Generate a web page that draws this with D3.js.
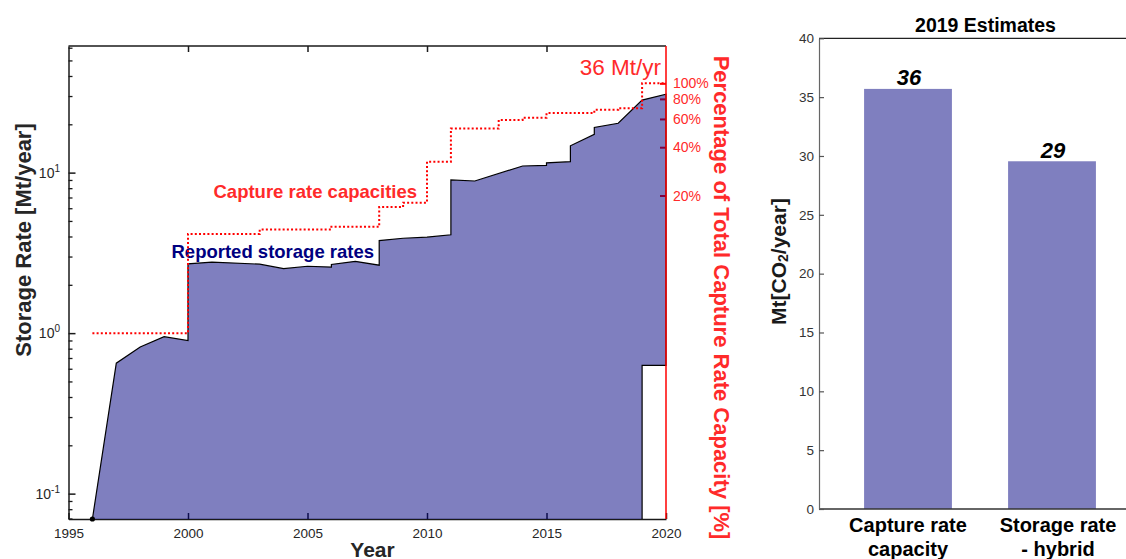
<!DOCTYPE html>
<html><head><meta charset="utf-8">
<script src="https://cdn.jsdelivr.net/npm/d3@7"></script>
<style>
body{margin:0;background:#fff;}
svg{display:block;font-family:"Liberation Sans",Arial,Helvetica,sans-serif;}
</style></head><body>
<svg id="chart" width="1126" height="559"></svg>
<script>
// ---------------- data ----------------
const storageYears  = [1996, 1997, 1998, 1999, 2000, 2000, 2001, 2003, 2004, 2005, 2006, 2006, 2007, 2008, 2008, 2009, 2010, 2011, 2011, 2012, 2014, 2015, 2015, 2016, 2016, 2017, 2017, 2018, 2019, 2020, 2020, 2019, 2019];
const storageValues = [0.0695, 0.65, 0.82, 0.95, 0.90, 2.70, 2.77, 2.69, 2.52, 2.61, 2.58, 2.68, 2.80, 2.65, 3.77, 3.90, 3.96, 4.10, 9.00, 8.87, 11.0, 11.1, 11.5, 11.7, 14.7, 17.3, 19.1, 20.3, 28.3, 30.8, 0.63, 0.63, 0.0695];
const captureYears  = [1996, 2000, 2003, 2006, 2008, 2009, 2010, 2011, 2013, 2014, 2015, 2017, 2018, 2019, 2020];
const captureValues = [1.0, 4.15, 4.43, 4.6, 6.1, 6.5, 11.7, 18.8, 21.3, 22.0, 23.5, 24.6, 25.2, 36, 36];
const totalCapacity = 36;
const pctTicks = [20, 40, 60, 80, 100];
const yearTicks = [1995, 2000, 2005, 2010, 2015, 2020];
const logMajorTicks = [0.1, 1, 10];
const logMajorExp = ["-1", "0", "1"];
const barCategories = [["Capture rate", "capacity"], ["Storage rate", "- hybrid"]];
const barPositions = [1, 2];
const barValues = [35.7, 29.55];
const barLabels = ["36", "29"];
const barTicks = [0, 5, 10, 15, 20, 25, 30, 35, 40];

// ---------------- setup ----------------
const svg = d3.select("#chart");
const NAVY = "#000080", RED = "#ff0000", RED_TXT = "#ff2a2a", INK = "#262626";

// left panel scales
const x = d3.scaleLinear().domain([1995, 2020]).range([68.5, 666]);
const y = d3.scaleLog().domain([0.0695, 61.5]).range([519, 46]);
const L = {left: 68.5, right: 666, top: 46, bottom: 519};

const gL = svg.append("g");

// top border
gL.append("line").attr("x1", L.left).attr("x2", L.right).attr("y1", L.top).attr("y2", L.top)
  .attr("stroke", "#1a1a1a").attr("stroke-width", 1.5);

// top ticks (no labels)
gL.append("g").attr("transform", `translate(0,${L.top})`)
  .call(d3.axisTop(x).tickValues(yearTicks.slice(1, -1)).tickSize(-6).tickSizeOuter(0).tickFormat(""))
  .call(g => g.select(".domain").remove())
  .call(g => g.selectAll(".tick line").attr("stroke", "#1a1a1a").attr("stroke-width", 1.5));

// bottom axis
gL.append("g").attr("transform", `translate(0,${L.bottom})`)
  .call(d3.axisBottom(x).tickValues(yearTicks).tickSize(-6).tickSizeOuter(0).tickPadding(9).tickFormat(d3.format("d")))
  .call(g => g.select(".domain").attr("stroke", "#1a1a1a").attr("stroke-width", 1.5))
  .call(g => g.selectAll(".tick line").attr("stroke", "#1a1a1a").attr("stroke-width", 1.5))
  .call(g => g.selectAll(".tick text").attr("fill", INK).attr("font-size", 13.5).attr("font-family", "Liberation Sans, Arial, sans-serif"));

// left axis major / minor ticks
const minorTicks = [];
[0.01, 0.1, 1, 10].forEach(d => { for (let k = 2; k <= 9; k++) { const v = d * k; if (v >= y.domain()[0] && v <= y.domain()[1]) minorTicks.push(v); } });
gL.append("g").attr("transform", `translate(${L.left},0)`)
  .call(d3.axisLeft(y).tickValues(minorTicks).tickSize(-4).tickSizeOuter(0).tickFormat(""))
  .call(g => g.select(".domain").remove())
  .call(g => g.selectAll(".tick line").attr("stroke", "#1a1a1a").attr("stroke-width", 1.3));
gL.append("g").attr("transform", `translate(${L.left},0)`)
  .call(d3.axisLeft(y).tickValues(logMajorTicks).tickSize(-7).tickSizeOuter(0).tickFormat(""))
  .call(g => g.select(".domain").attr("stroke", "#1a1a1a").attr("stroke-width", 1.5))
  .call(g => g.selectAll(".tick line").attr("stroke", "#1a1a1a").attr("stroke-width", 1.5));
// major labels 10^n
logMajorTicks.forEach((v, i) => {
  const t = gL.append("text").attr("x", 60).attr("y", y(v) + 5).attr("text-anchor", "end")
    .attr("fill", INK).attr("font-size", 14);
  t.append("tspan").text("10");
  t.append("tspan").attr("dy", -6).attr("font-size", 10).text(logMajorExp[i]);
});

// right axis (percentage of total capacity)
gL.append("g").attr("transform", `translate(${L.right},0)`)
  .call(d3.axisRight(y).tickValues(pctTicks.map(p => p / 100 * totalCapacity)).tickSize(-6).tickSizeOuter(0).tickPadding(7)
        .tickFormat(v => Math.round(v / totalCapacity * 100) + "%"))
  .call(g => g.select(".domain").remove())
  .call(g => g.selectAll(".tick line").attr("stroke", RED).attr("stroke-width", 2))
  .call(g => g.selectAll(".tick text").attr("fill", RED_TXT).attr("font-size", 14).attr("font-family", "Liberation Sans, Arial, sans-serif"));

// storage area (semi transparent navy over the axes)
const pts = storageYears.map((yr, i) => [x(yr), y(storageValues[i])]);
gL.append("path").attr("d", d3.line()(pts) + "Z")
  .attr("fill", NAVY).attr("fill-opacity", 0.5).attr("stroke", "none");
gL.append("path").attr("d", d3.line()(pts))
  .attr("fill", "none").attr("stroke", "#000").attr("stroke-width", 1.2).attr("stroke-linejoin", "miter");
gL.append("circle").attr("cx", x(storageYears[0])).attr("cy", y(storageValues[0])).attr("r", 2.6).attr("fill", "#000");

// right axis line (red)
gL.append("line").attr("x1", L.right).attr("x2", L.right).attr("y1", L.top).attr("y2", L.bottom)
  .attr("stroke", RED).attr("stroke-width", 1.5);

// annotations
gL.append("text").attr("x", 213.5).attr("y", 198).attr("font-size", 18.5).attr("font-weight", "bold")
  .attr("fill", RED_TXT).text("Capture rate capacities");
gL.append("text").attr("x", 171.5).attr("y", 258).attr("font-size", 18.5).attr("font-weight", "bold")
  .attr("fill", NAVY).text("Reported storage rates");
gL.append("text").attr("x", 661).attr("y", 75).attr("text-anchor", "end").attr("font-size", 22.5)
  .attr("fill", RED_TXT).text(totalCapacity + " Mt/yr");

// capture capacity dotted step line
const capLine = d3.line().curve(d3.curveStepAfter).x((d, i) => x(captureYears[i])).y(d => y(d));
gL.append("path").attr("d", capLine(captureValues))
  .attr("fill", "none").attr("stroke", RED).attr("stroke-width", 2).attr("stroke-dasharray", "2,2.2");

// axis titles
gL.append("text").attr("transform", "translate(31,240) rotate(-90)").attr("text-anchor", "middle")
  .attr("font-size", 22).attr("font-weight", "bold").attr("fill", INK).text("Storage Rate [Mt/year]");
gL.append("text").attr("x", 372.5).attr("y", 556.5).attr("text-anchor", "middle")
  .attr("font-size", 21).attr("font-weight", "bold").attr("fill", INK).text("Year");
gL.append("text").attr("transform", "translate(714,297.5) rotate(90)").attr("text-anchor", "middle")
  .attr("font-size", 22).attr("font-weight", "bold").attr("fill", RED_TXT).text("Percentage of Total Capture Rate Capacity [%]");

// ---------------- right panel: bars ----------------
const xb = d3.scaleLinear().domain([1, 2]).range([908, 1052]);
const yb = d3.scaleLinear().domain([0, 40]).range([509, 38.3]);
const barHalfWidth = 0.305; // in category units
const R = {left: xb(0.382), right: xb(2.7), top: yb(40), bottom: yb(0)};
const gR = svg.append("g");

gR.selectAll("rect.bar").data(barValues).join("rect").attr("class", "bar")
  .attr("x", (d, i) => xb(barPositions[i] - barHalfWidth))
  .attr("width", (d, i) => xb(barPositions[i] + barHalfWidth) - xb(barPositions[i] - barHalfWidth))
  .attr("y", d => yb(d)).attr("height", d => yb(0) - yb(d))
  .attr("fill", NAVY).attr("fill-opacity", 0.5);

// top line
gR.append("line").attr("x1", R.left).attr("x2", R.right).attr("y1", R.top).attr("y2", R.top)
  .attr("stroke", "#222").attr("stroke-width", 1.2);
// bottom line
gR.append("line").attr("x1", R.left).attr("x2", R.right).attr("y1", R.bottom).attr("y2", R.bottom)
  .attr("stroke", "#333").attr("stroke-width", 1.3);
// left axis
gR.append("g").attr("transform", `translate(${R.left},0)`)
  .call(d3.axisLeft(yb).tickValues(barTicks).tickSize(-5).tickSizeOuter(0).tickPadding(5))
  .call(g => g.select(".domain").attr("stroke", "#666").attr("stroke-width", 1.2))
  .call(g => g.selectAll(".tick line").attr("stroke", "#555").attr("stroke-width", 1.2))
  .call(g => g.selectAll(".tick text").attr("fill", "#333").attr("font-size", 13.5).attr("font-family", "Liberation Sans, Arial, sans-serif"));

// value labels
gR.selectAll("text.val").data(barLabels).join("text").attr("class", "val")
  .attr("x", (d, i) => xb(barPositions[i]) + 1).attr("y", (d, i) => yb(barValues[i]) - 3.5)
  .attr("text-anchor", "middle").attr("font-size", 22).attr("font-weight", "bold").attr("font-style", "italic")
  .attr("fill", "#000").text(d => d);

// category labels
barCategories.forEach((lines, i) => {
  lines.forEach((ln, j) => {
    gR.append("text").attr("x", xb(barPositions[i]) + (i === 1 ? 6 : 0)).attr("y", 531.5 + j * 24)
      .attr("text-anchor", "middle").attr("font-size", 20).attr("font-weight", "bold").attr("fill", "#000").text(ln);
  });
});

// title
gR.append("text").attr("x", 985.5).attr("y", 32.3).attr("text-anchor", "middle")
  .attr("font-size", 19.5).attr("font-weight", "bold").attr("fill", "#000").text("2019 Estimates");

// y label with subscript
const yl = gR.append("text").attr("transform", "translate(786,261.5) rotate(-90)").attr("text-anchor", "middle")
  .attr("font-size", 21).attr("font-weight", "bold").attr("fill", "#1a1a1a");
yl.append("tspan").text("Mt[CO");
yl.append("tspan").attr("font-size", 14).attr("dy", 2).text("2");
yl.append("tspan").attr("dy", -2).text("/year]");
</script>
</body></html>
